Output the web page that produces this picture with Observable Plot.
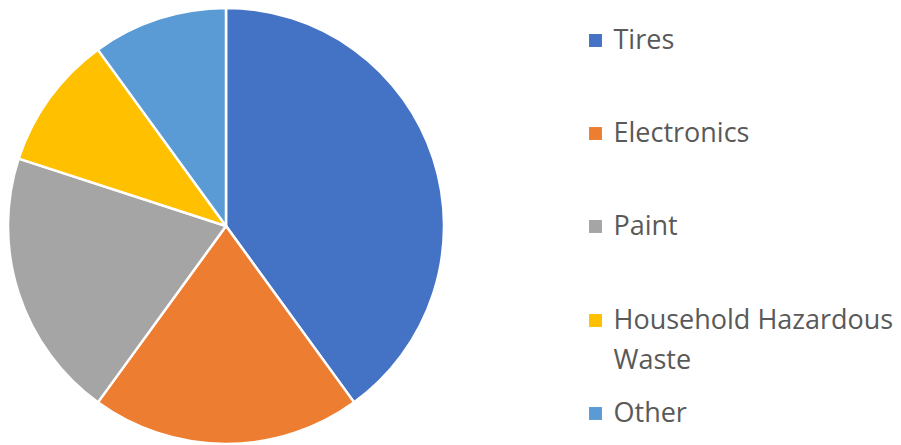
<!DOCTYPE html>
<html>
<head>
<meta charset="utf-8">
<script src="https://cdn.jsdelivr.net/npm/d3@7"></script>
<script src="https://cdn.jsdelivr.net/npm/@observablehq/plot@0.6"></script>
<style>
  html, body { margin: 0; padding: 0; background: #fff; }
</style>
</head>
<body>
<div id="chart"></div>
<script>
const categories = ["Tires", "Electronics", "Paint", "Household Hazardous Waste", "Other"];
const values = [40, 20, 20, 10, 10];
const colors = ["#4472C4", "#ED7D31", "#A5A5A5", "#FFC000", "#5B9BD5"];
const legendLabels = ["Tires", "Electronics", "Paint", "Household Hazardous\nWaste", "Other"];

const data = categories.map((c, i) => ({category: c, value: values[i], label: legendLabels[i], i}));

const W = 901, H = 445;
const cx = 226, cy = 226, R = 218;
const legendY = [40, 133, 226, 320, 413];

const pieMark = (index, scales, vals, dims) => {
  const g = d3.create("svg:g").attr("transform", `translate(${cx},${cy})`);
  const arcs = d3.pie().sort(null).value(d => d.value)(data);
  const arc = d3.arc().innerRadius(0).outerRadius(R);
  g.selectAll("path").data(arcs).join("path")
    .attr("d", arc)
    .attr("fill", d => scales.color(d.data.category))
    .attr("stroke", "#fff")
    .attr("stroke-width", 2.5)
    .attr("stroke-linejoin", "round");
  return g.node();
};

const legend = data.map((d, i) => ({...d, ly: legendY[i]}));

const chart = Plot.plot({
  width: W,
  height: H,
  margin: 0,
  x: {domain: [0, W], range: [0, W], axis: null},
  y: {domain: [0, H], range: [0, H], axis: null},
  color: {domain: categories, range: colors},
  style: {background: "#fff"},
  marks: [
    pieMark,
    Plot.dot(legend, {x: () => 595, y: "ly", symbol: "square", r: 7.3, fill: "category", stroke: null}),
    Plot.text(legend, {
      x: () => 613, y: d => d.ly - 20, text: "label", textAnchor: "start", lineAnchor: "top",
      fontSize: 27, lineHeight: 1.48, fill: "#595959", fontFamily: "Open Sans"
    })
  ]
});
document.getElementById("chart").appendChild(chart);
</script>
</body>
</html>
